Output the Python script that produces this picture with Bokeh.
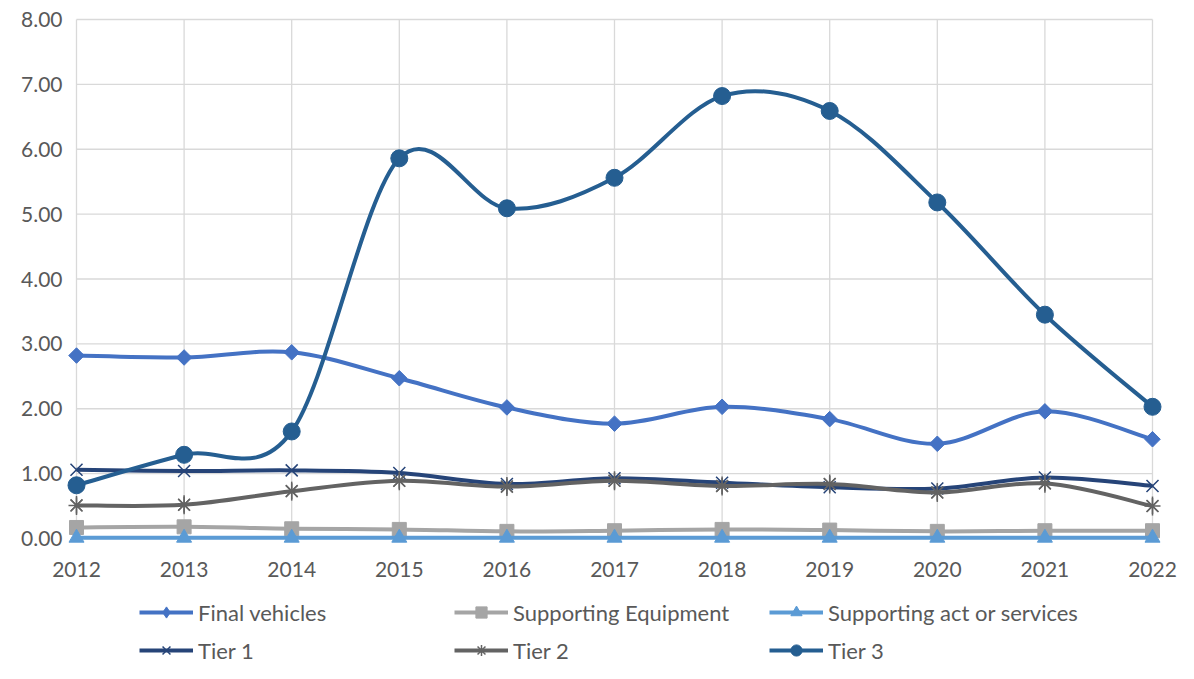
import math
from bokeh.plotting import figure
from bokeh.models import Range1d, Legend, LegendItem
from bokeh.core.properties import value
from bokeh.embed import file_html
from bokeh.resources import INLINE

years = [2012, 2013, 2014, 2015, 2016, 2017, 2018, 2019, 2020, 2021, 2022]
year_labels = ["2012", "2013", "2014", "2015", "2016", "2017", "2018", "2019", "2020", "2021", "2022"]
y_ticks = [0, 1, 2, 3, 4, 5, 6, 7, 8]
y_tick_labels = ["0.00", "1.00", "2.00", "3.00", "4.00", "5.00", "6.00", "7.00", "8.00"]

final_vehicles = [2.82, 2.79, 2.87, 2.47, 2.02, 1.77, 2.03, 1.84, 1.46, 1.96, 1.53]
supporting_equipment = [0.17, 0.18, 0.15, 0.14, 0.11, 0.12, 0.14, 0.13, 0.11, 0.12, 0.12]
supporting_act = [0.01, 0.01, 0.01, 0.01, 0.01, 0.01, 0.01, 0.01, 0.01, 0.01, 0.01]
tier_1 = [1.06, 1.04, 1.05, 1.01, 0.84, 0.93, 0.86, 0.79, 0.77, 0.94, 0.81]
tier_2 = [0.51, 0.52, 0.73, 0.89, 0.80, 0.89, 0.81, 0.84, 0.71, 0.85, 0.50]
tier_3 = [0.82, 1.29, 1.65, 5.86, 5.09, 5.56, 6.82, 6.59, 5.18, 3.45, 2.03]

names = ["Final vehicles", "Supporting Equipment", "Supporting act or services",
         "Tier 1", "Tier 2", "Tier 3"]
values = [final_vehicles, supporting_equipment, supporting_act, tier_1, tier_2, tier_3]
colors = ["#4472C4", "#A5A5A5", "#5B9BD5", "#264478", "#636363", "#255E91"]

FONT = "Lato"
TXT = "#595959"
GRID = "#D9D9D9"

W, H = 1178, 663
# plot area: first year 76 px from the left, last year at 1152 px; 0 at 538 px, 8 at 19 px
left_px, right_px, zero_px, top_px = 76, 1152, 538, 19
px_per_year = (right_px - left_px) / (years[-1] - years[0])
px_per_unit = (zero_px - top_px) / (y_ticks[-1] - y_ticks[0])
x_lo = years[0] - left_px / px_per_year
x_hi = x_lo + W / px_per_year
y_hi = y_ticks[0] + zero_px / px_per_unit
y_lo = y_hi - H / px_per_unit

p = figure(width=W, height=H, output_backend="svg", toolbar_location=None,
           x_range=Range1d(x_lo, x_hi), y_range=Range1d(y_lo, y_hi),
           x_axis_location=None, y_axis_location=None,
           min_border_left=0, min_border_right=0, min_border_top=0, min_border_bottom=0)
p.outline_line_color = None
p.xgrid.visible = False
p.ygrid.visible = False

# grid lines over the tick positions only (2012..2022, 0..8)
p.segment(x0=[years[0]] * len(y_ticks), y0=y_ticks, x1=[years[-1]] * len(y_ticks), y1=y_ticks,
          line_color=GRID, line_width=1.3)
p.segment(x0=years, y0=[y_ticks[0]] * len(years), x1=years, y1=[y_ticks[-1]] * len(years),
          line_color=GRID, line_width=1.3)

# value labels, 14 px left of the plot area
p.text(x=[years[0] - 14 / px_per_year] * len(y_ticks), y=y_ticks, text=y_tick_labels,
       text_font=value(FONT), text_font_size="21px", text_color=TXT,
       text_align="right", text_baseline="middle")
# year labels, 31 px under the zero line
p.text(x=years, y=[y_ticks[0] - 31 / px_per_unit] * len(years), text=year_labels,
       text_font=value(FONT), text_font_size="21px", text_color=TXT,
       text_align="center", text_baseline="middle")


def smooth_controls(xs, ys):
    n = len(xs)
    x0, y0, x1, y1, cx0, cy0, cx1, cy1 = [], [], [], [], [], [], [], []
    for i in range(n - 1):
        a = i - 1 if i > 0 else i
        d = i + 2 if i + 2 < n else i + 1
        x0.append(xs[i]); y0.append(ys[i])
        x1.append(xs[i + 1]); y1.append(ys[i + 1])
        cx0.append(xs[i] + (xs[i + 1] - xs[a]) / 6.0)
        cy0.append(ys[i] + (ys[i + 1] - ys[a]) / 6.0)
        cx1.append(xs[i + 1] - (xs[d] - xs[i]) / 6.0)
        cy1.append(ys[i + 1] - (ys[d] - ys[i]) / 6.0)
    return dict(x0=x0, y0=y0, x1=x1, y1=y1, cx0=cx0, cy0=cy0, cx1=cx1, cy1=cy1)


items = []
for k, (name, vals, col) in enumerate(zip(names, values, colors)):
    c = smooth_controls(years, vals)
    rends = []
    if k == 4:
        # asterisk for the legend swatch; sits under the line and the x/| marks
        rends.append(p.scatter(years, vals, marker="asterisk", size=16,
                               line_color=col, line_width=1.5))
    line = p.bezier(line_color=col, line_width=4, **c)
    rends.insert(0, line)
    if k == 0:
        # diamond for the legend swatch; hidden inside the square-rotated marker
        rends.append(p.scatter(years, vals, marker="diamond", size=13,
                               fill_color=col, line_color=col))
        p.scatter(years, vals, marker="square", angle=math.pi / 4, size=11,
                  fill_color=col, line_color=col)
    elif k == 1:
        rends.append(p.scatter(years, vals, marker="square", size=14,
                               fill_color=col, line_color=col))
    elif k == 2:
        rends.append(p.scatter(years, vals, marker="triangle", size=15,
                               fill_color=col, line_color=col))
    elif k == 3:
        rends.append(p.scatter(years, vals, marker="x", size=17,
                               fill_color=None, line_color=col, line_width=1.5))
    elif k == 4:
        p.scatter(years, vals, marker="x", size=17,
                  fill_color=None, line_color=col, line_width=1.5)
        p.scatter(years, vals, marker="dash", angle=math.pi / 2, size=19,
                  fill_color=None, line_color=col, line_width=1.5)
    else:
        rends.append(p.scatter(years, vals, marker="circle", size=17,
                               fill_color=col, line_color=col))
    items.append(LegendItem(label=name, renderers=rends))

legend = Legend(items=items, orientation="horizontal", ncols=3,
                location=(139, -1), padding=0, margin=0, spacing=10,
                glyph_width=54, glyph_height=28, label_height=28, label_width=246,
                label_standoff=5, label_text_font=FONT, label_text_font_size="22px",
                label_text_color=TXT, border_line_color=None, background_fill_alpha=0)
p.add_layout(legend, "center")

open("out.html", "w").write(file_html(p, INLINE))
